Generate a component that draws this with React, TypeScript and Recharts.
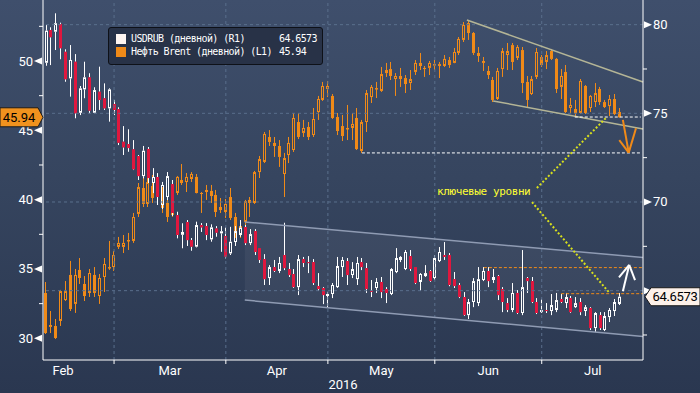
import React from "react";
import { ComposedChart, Bar, Area, XAxis, YAxis, ReferenceLine } from "recharts";

// USD/RUB daily candles (right axis, R1)
const rubOpen = [
  77.85, 79.7, 79.6, 80.04, 78.47, 76.97, 77.91, 75.03, 76.35, 77.03,
  75.03, 76.22, 75.85, 75.28, 75.52, 75.23, 73.4, 73.27, 72.97, 72.59,
  71.46, 72.99, 71.07, 71.41, 69.83, 70.28, 71.01, 69.26, 68.15, 68.87,
  67.85, 67.48, 68.7, 68.64, 67.89, 68.51, 68.23, 68.08, 67.1, 67.74,
  68.14, 68.59, 67.68, 68.36, 67.4, 66.78, 65.71, 66.33, 66.11, 67.01,
  66.22, 65.94, 65.2, 66.78, 66.61, 66.61, 65.26, 65.15, 64.7, 64.81,
  65.2, 66.33, 66.67, 65.88, 65.65, 66.61, 66.27, 64.98, 65.15, 65.49,
  65.09, 64.81, 66.05, 66.73, 66.22, 66.95, 66.33, 65.49, 65.82, 66.11,
  65.71, 66.67, 67.01, 67.01, 65.65, 65.32, 64.64, 63.62, 64.36, 64.3,
  65.6, 66.11, 65.6, 65.82, 65.09, 64.3, 63.91, 64.87, 63.74, 65.71,
  65.54, 64.36, 63.79, 63.91, 63.85, 63.91, 64.53, 64.3, 64.58, 64.07,
  64.36, 63.85, 64.02, 62.89, 63.62, 62.78, 63.51, 63.85, 64.25,
];
const rubHigh = [
  79.98, 79.85, 80.64, 80.11, 78.61, 78.85, 78.34, 76.54, 77.91, 77.26,
  76.47, 77.63, 76.69, 76.41, 75.75, 75.34, 74.28, 74.1, 73.49, 72.65,
  73.16, 73.1, 71.91, 71.63, 71.13, 71.69, 71.24, 69.45, 68.8, 68.98,
  67.97, 68.89, 68.81, 68.81, 68.74, 68.64, 68.64, 68.57, 68.6, 68.64,
  68.98, 68.7, 68.47, 68.47, 67.4, 67.06, 66.44, 66.73, 66.9, 68.83,
  66.56, 66.22, 67.01, 66.9, 66.95, 66.78, 65.99, 65.2, 64.92, 65.43,
  66.9, 66.9, 66.84, 66.61, 66.9, 66.84, 66.56, 65.6, 65.71, 65.77,
  65.2, 66.27, 67.4, 66.95, 67.29, 67.29, 66.33, 65.99, 66.44, 66.16,
  67.01, 67.46, 67.74, 67.12, 66.05, 65.43, 64.92, 64.53, 65.71, 66.33,
  66.33, 66.33, 66.22, 65.88, 65.2, 64.58, 65.43, 65.03, 67.29, 65.77,
  65.77, 64.58, 64.53, 64.3, 64.81, 64.87, 64.81, 64.87, 64.7, 64.64,
  64.58, 64.19, 64.07, 63.79, 63.79, 63.79, 64.02, 64.53, 64.87,
];
const rubLow = [
  77.68, 77.72, 78.57, 78.05, 76.78, 75.94, 74.72, 74.9, 75.85, 75.0,
  75.0, 75.19, 75.19, 74.53, 74.9, 73.21, 72.65, 72.83, 71.8, 71.24,
  71.33, 71.07, 70.5, 69.83, 69.6, 70.11, 69.21, 67.95, 67.39, 67.52,
  67.25, 67.44, 68.31, 67.85, 67.76, 68.04, 67.19, 66.82, 67.01, 67.52,
  68.04, 67.57, 67.57, 67.01, 66.56, 65.32, 65.32, 66.05, 65.99, 66.16,
  65.77, 65.15, 64.75, 66.33, 65.99, 65.32, 64.98, 64.24, 64.07, 64.58,
  65.15, 65.77, 65.32, 65.71, 65.32, 66.16, 64.87, 64.64, 64.87, 64.58,
  64.3, 64.75, 65.99, 66.61, 66.16, 66.11, 65.37, 64.98, 65.77, 65.49,
  65.6, 66.61, 66.73, 65.25, 65.15, 64.58, 63.57, 63.4, 64.07, 64.13,
  65.54, 65.2, 65.43, 64.47, 63.79, 63.79, 63.79, 63.68, 63.62, 64.87,
  64.3, 63.68, 63.74, 63.74, 63.62, 63.79, 64.3, 64.02, 63.74, 64.02,
  63.62, 63.57, 62.78, 62.67, 62.78, 62.72, 63.23, 63.57, 64.19,
];
const rubClose = [
  79.66, 79.29, 80.08, 78.67, 76.92, 78.01, 75.0, 76.41, 77.03, 75.15,
  76.31, 75.75, 75.28, 76.35, 75.19, 73.34, 73.08, 73.04, 71.84, 71.46,
  72.89, 71.35, 71.41, 70.28, 70.96, 71.46, 69.38, 68.14, 68.31, 67.85,
  67.48, 68.7, 68.57, 68.14, 68.57, 68.27, 68.35, 66.91, 67.76, 68.36,
  68.55, 67.68, 68.19, 67.18, 66.73, 65.65, 66.33, 66.11, 66.56, 66.27,
  65.88, 65.2, 66.78, 66.56, 66.56, 65.43, 65.09, 64.75, 64.81, 65.32,
  66.39, 66.73, 65.88, 66.22, 66.56, 66.33, 65.09, 64.95, 65.49, 64.92,
  64.87, 66.22, 66.84, 66.9, 67.18, 66.22, 65.43, 65.94, 65.99, 65.54,
  66.84, 67.18, 66.9, 65.32, 65.26, 64.64, 63.62, 64.36, 65.54, 65.65,
  66.11, 65.54, 65.77, 64.75, 64.36, 63.91, 64.87, 63.74, 65.2, 65.54,
  64.36, 63.74, 63.91, 63.85, 64.19, 64.47, 64.36, 64.64, 63.79, 64.3,
  63.79, 64.07, 62.89, 63.74, 62.89, 63.57, 63.91, 64.36, 64.66,
];

// Brent daily candles (left axis, L1)
const brentOpen = [
  33.27, 30.96, 30.89, 31.25, 32.76, 34.57, 32.48, 34.93, 33.92, 33.27,
  34.57, 33.05, 34.42, 35.11, 35.14, 36.59, 36.59, 37.06, 37.02, 38.97,
  40.84, 39.69, 40.99, 40.63, 40.34, 39.76, 38.89, 40.48, 41.42, 41.27,
  41.49, 41.64, 40.48, 40.7, 40.63, 40.34, 39.47, 39.11, 40.19, 38.75,
  37.45, 38.39, 39.98, 39.76, 41.99, 42.72, 44.52, 44.09, 43.87, 41.85,
  43.22, 43.58, 45.6, 44.81, 45.24, 44.66, 46.32, 47.19, 47.98, 47.48,
  45.96, 45.31, 45.1, 45.17, 45.89, 43.51, 45.6, 47.4, 47.98, 47.84,
  49.13, 49.42, 48.7, 48.92, 48.77, 48.41, 49.21, 49.86, 49.5, 49.5,
  49.75, 49.78, 49.64, 50.07, 49.86, 50.58, 51.52, 52.74, 52.02, 50.58,
  50.0, 49.28, 48.63, 47.26, 49.42, 50.43, 51.15, 50.22, 50.79, 48.49,
  47.62, 48.85, 50.29, 49.93, 50.72, 50.15, 48.13, 49.21, 46.61, 46.54,
  46.25, 48.2, 46.61, 47.04, 47.98, 47.04, 46.75, 47.26, 46.32,
];
const brentHigh = [
  34.06, 31.97, 31.39, 33.49, 34.13, 35.58, 35.0, 35.79, 34.49, 35.0,
  35.14, 34.64, 35.79, 37.02, 36.3, 37.31, 37.45, 37.6, 39.04, 41.2,
  41.64, 41.92, 41.78, 41.06, 40.91, 40.19, 41.2, 41.71, 42.57, 41.92,
  41.99, 41.85, 40.55, 41.06, 41.06, 40.7, 40.12, 40.05, 40.84, 39.04,
  38.53, 39.98, 40.19, 42.07, 43.15, 44.88, 45.02, 44.52, 44.3, 43.37,
  44.52, 46.25, 46.25, 45.75, 45.6, 46.61, 47.48, 48.49, 48.56, 47.62,
  46.25, 46.11, 46.83, 46.25, 46.61, 45.75, 47.91, 48.27, 48.49, 49.57,
  49.86, 49.93, 49.13, 49.5, 48.99, 49.35, 50.07, 50.58, 49.64, 50.0,
  50.07, 49.93, 50.43, 50.29, 50.94, 51.73, 52.81, 52.96, 52.09, 51.01,
  50.29, 49.64, 48.85, 49.5, 50.94, 51.3, 51.3, 51.15, 51.01, 48.92,
  48.92, 50.94, 50.43, 50.72, 50.87, 50.22, 49.42, 49.71, 47.33, 47.19,
  48.7, 48.27, 47.55, 48.41, 48.13, 47.19, 47.55, 47.62, 46.61,
];
const brentLow = [
  30.31, 30.38, 29.95, 30.89, 32.69, 31.97, 31.83, 33.92, 32.69, 32.98,
  32.98, 32.48, 33.34, 34.93, 34.86, 36.44, 36.15, 36.37, 36.88, 38.75,
  39.47, 39.47, 39.76, 39.76, 39.04, 38.39, 38.75, 40.34, 41.06, 40.55,
  41.27, 40.45, 39.04, 39.98, 39.76, 38.75, 39.04, 38.68, 38.53, 37.24,
  37.24, 37.81, 38.75, 39.69, 41.56, 42.64, 43.87, 43.08, 42.36, 40.19,
  42.64, 43.44, 44.37, 44.52, 44.3, 44.52, 45.75, 47.12, 47.4, 45.82,
  44.66, 44.23, 44.3, 44.3, 43.58, 43.37, 44.88, 46.97, 47.33, 47.77,
  48.85, 48.63, 47.48, 48.13, 47.69, 47.91, 48.99, 49.35, 48.85, 48.99,
  49.35, 48.77, 49.57, 49.5, 49.84, 50.43, 51.37, 51.52, 50.43, 49.93,
  49.28, 48.7, 47.04, 47.19, 48.85, 49.35, 49.35, 50.07, 47.69, 46.68,
  47.55, 48.7, 49.57, 49.42, 50.07, 47.69, 47.26, 46.25, 46.25, 45.96,
  46.18, 46.18, 46.32, 46.68, 46.83, 46.61, 46.03, 46.11, 45.9,
];
const brentClose = [
  30.38, 30.82, 30.02, 33.41, 33.41, 32.11, 34.57, 34.35, 33.05, 34.71,
  33.27, 34.35, 35.36, 35.14, 36.01, 36.88, 36.88, 37.09, 38.75, 40.91,
  39.69, 41.27, 40.12, 40.26, 39.4, 38.75, 40.41, 41.64, 41.2, 41.64,
  41.85, 40.48, 40.45, 40.55, 40.26, 39.11, 39.25, 39.69, 38.68, 37.67,
  38.1, 39.9, 39.76, 41.99, 42.93, 44.74, 44.16, 43.87, 43.08, 43.0,
  44.09, 45.89, 44.52, 45.17, 44.52, 45.82, 47.26, 48.2, 48.2, 45.89,
  44.95, 44.59, 45.17, 45.46, 43.65, 45.6, 47.69, 48.13, 48.05, 49.06,
  49.35, 48.92, 48.92, 48.7, 48.34, 48.7, 49.86, 49.64, 49.42, 49.86,
  49.78, 49.64, 50.15, 49.71, 50.65, 51.59, 52.6, 52.02, 50.58, 50.36,
  49.86, 48.99, 47.19, 49.28, 50.72, 50.72, 49.93, 51.01, 48.41, 47.19,
  48.7, 50.65, 49.71, 50.43, 50.15, 47.98, 48.92, 46.32, 46.83, 46.25,
  48.56, 46.25, 47.48, 47.69, 47.04, 46.68, 47.26, 46.18, 45.94,
];

// first session of each month as a candle index (Feb 1 and Aug 1 fall outside the window)
const monthNames = ["Feb", "Mar", "Apr", "May", "Jun", "Jul"];
const monthStarts = [-7, 14, 37, 58, 80, 102, 123];

const brentTicks = [30, 32.5, 35, 37.5, 40, 42.5, 45, 47.5, 50, 52.5];
const rubTicks = [62.5, 65, 67.5, 70, 72.5, 75, 77.5, 80];
const rubGrid = [65, 70, 75, 80];

const brentLast = 45.94;
const rubLast = 64.6573;

// hand-drawn annotations, in candle index / price units
const brentUpper = [{ x: 86.6, y: 52.96 }, { x: 122.84, y: 48.49 }];
const brentLower = [{ x: 92, y: 47.12 }, { x: 122.84, y: 45.1 }];
const brentSupport = [{ x: 65, y: 43.37 }, { x: 122.4, y: 43.37 }];
const brentNear = [{ x: 108.8, y: 45.96 }, { x: 122.4, y: 45.96 }];
const brentArrow = [{ x: 118.7, y: 45.75 }, { x: 119.9, y: 43.39 }];
const brentHeadL = [{ x: 117.96, y: 44.3 }, { x: 119.9, y: 43.39 }];
const brentHeadR = [{ x: 121.4, y: 45.15 }, { x: 119.9, y: 43.39 }];

const rubChannel = [
  { i: 40.9, band: [64.47, 68.87] },
  { i: 122.84, band: [62.42, 66.87] },
];
const rubUpper = [{ x: 40.9, y: 68.87 }, { x: 122.84, y: 66.87 }];
const rubLower = [{ x: 40.9, y: 64.47 }, { x: 122.84, y: 62.42 }];
const rubLevelHi = [{ x: 90.1, y: 66.3 }, { x: 122.84, y: 66.3 }];
const rubLevelLo = [{ x: 106, y: 64.83 }, { x: 122.84, y: 64.83 }];
const rubArrow = [{ x: 118.7, y: 64.97 }, { x: 120.0, y: 66.45 }];
const rubHeadL = [{ x: 117.9, y: 65.75 }, { x: 120.0, y: 66.45 }];
const rubHeadR = [{ x: 121.2, y: 65.6 }, { x: 120.0, y: 66.45 }];
const pointerUp = [{ x: 101, y: 70.79 }, { x: 115.4, y: 74.79 }];
const pointerDown = [{ x: 100, y: 69.99 }, { x: 115.8, y: 64.92 }];

const rows = rubOpen.map((_, i) => ({
  i,
  ro: rubOpen[i], rh: rubHigh[i], rl: rubLow[i], rc: rubClose[i],
  bo: brentOpen[i], bh: brentHigh[i], bl: brentLow[i], bc: brentClose[i],
}));

const ORANGE = "#f08a18";
const RED = "#e0173e";
const GRID = "#5a6f8c";

const candle = (series: "rub" | "brent") => (props: any) => {
  const { x, y, width, height, payload } = props;
  if (x == null || !payload) return <g />;
  const o = series === "rub" ? payload.ro : payload.bo;
  const h = series === "rub" ? payload.rh : payload.bh;
  const l = series === "rub" ? payload.rl : payload.bl;
  const c = series === "rub" ? payload.rc : payload.bc;
  const top = Math.min(y, y + height);
  const span = Math.abs(height);
  const px = (v: number) => (h === l ? top : top + ((h - v) / (h - l)) * span);
  const cx = Math.floor(x + width / 2) + 0.5;
  const up = c >= o;
  const yTop = px(Math.max(o, c));
  const bodyH = Math.max(px(Math.min(o, c)) - yTop, 1);
  const wick = series === "rub" ? "#ffffff" : ORANGE;
  const col = series === "rub" ? (up ? "#ffffff" : RED) : ORANGE;
  return (
    <g>
      <line x1={cx} x2={cx} y1={px(h)} y2={yTop} stroke={wick} />
      <line x1={cx} x2={cx} y1={yTop + bodyH} y2={px(l)} stroke={wick} />
      {up ? (
        <rect x={cx - 1} y={yTop + 0.5} width={2} height={Math.max(bodyH - 1, 0.5)} fill="none" stroke={col} />
      ) : (
        <rect x={cx - 1.5} y={yTop} width={3} height={bodyH} fill={col} />
      )}
    </g>
  );
};

const LeftTick = (props: any) => {
  const { x, y, payload } = props;
  const v = payload.value;
  if (v === brentLast) {
    return (
      <g>
        <path d={`M${x - 43},${y - 9.5} H${x - 5} L${x},${y} L${x - 5},${y + 9.5} H${x - 43} Z`} fill="#f0921e" stroke="#1b1b1b" />
        <text x={x - 24} y={y + 4.5} textAnchor="middle" fontSize={13} fill="#000">{v.toFixed(2)}</text>
      </g>
    );
  }
  if (v % 5 === 0) {
    return (
      <g>
        <path d={`M${x - 9},${y} L${x - 1},${y - 3.5} L${x - 1},${y + 3.5} Z`} fill="#fff" />
        <text x={x - 10} y={y + 4.5} textAnchor="end" fontSize={13} fill="#fff">{v}</text>
      </g>
    );
  }
  return <line x1={x - 4} x2={x} y1={y} y2={y} stroke="#fff" />;
};

const RightTick = (props: any) => {
  const { x, y, payload } = props;
  const v = payload.value;
  if (v === rubLast) {
    return (
      <g>
        <path d={`M${x + 2},${y} L${x + 8},${y - 9} H${x + 57} V${y + 9} H${x + 8} Z`} fill="#fdf1ea" stroke="#1b1b1b" />
        <text x={x + 32} y={y + 4.5} textAnchor="middle" fontSize={13} letterSpacing={-0.3} fill="#000">{v.toFixed(4)}</text>
      </g>
    );
  }
  if (v % 5 === 0) {
    // the 65 label sits under the last-value tag, as in the source
    const hidden = Math.abs(v - rubLast) < 1;
    return (
      <g>
        <path d={`M${x + 1},${y - 3.5} L${x + 9},${y} L${x + 1},${y + 3.5} Z`} fill="#fff" />
        {!hidden && <text x={x + 10} y={y + 4.5} textAnchor="start" fontSize={13} fill="#fff">{v}</text>}
      </g>
    );
  }
  return <line x1={x} x2={x + 4} y1={y} y2={y} stroke="#fff" />;
};

const monthMids = monthNames.map((_, k) => (monthStarts[k] + monthStarts[k + 1]) / 2);
const xTicks = [...monthStarts.filter((s) => s >= 0 && s <= 122), ...monthMids];

const MonthTick = (props: any) => {
  const { x, y, payload } = props;
  const v = payload.value;
  const k = monthMids.indexOf(v);
  if (k < 0) return <line x1={x} x2={x} y1={y} y2={y + 4} stroke="#fff" />;
  return (
    <text x={x} y={y + 15} textAnchor="middle" fontSize={13} fill="#fff">{monthNames[k]}</text>
  );
};

const seg = (pts: { x: number; y: number }[]) => pts as any;

export default function App() {
  return (
    <div
      style={{
        position: "absolute",
        left: 0,
        top: 0,
        width: 700,
        height: 393,
        background: "linear-gradient(180deg, #3f4f6c 0%, #36455f 45%, #2a3750 100%)",
        fontFamily: "Roboto, 'DejaVu Sans', sans-serif",
        overflow: "hidden",
      }}
    >
      <ComposedChart width={700} height={393} data={rows} margin={{ top: 0, right: 0, bottom: 0, left: 0 }} barSize={3} barGap={-3}>
        <XAxis
          dataKey="i"
          type="number"
          domain={[-0.62, 122.84]}
          allowDataOverflow
          ticks={xTicks}
          interval={0}
          tick={<MonthTick />}
          tickLine={false}
          tickSize={0}
          tickMargin={0}
          height={33}
          axisLine={{ stroke: "#fff" }}
          label={{ value: "2016", position: "insideBottom", offset: 4, fill: "#fff", fontSize: 13 }}
        />
        <YAxis
          yAxisId="L"
          orientation="left"
          width={43}
          domain={[28.435, 54.4]}
          allowDataOverflow
          ticks={[...brentTicks, brentLast]}
          interval={0}
          tick={<LeftTick />}
          tickLine={false}
          tickSize={0}
          tickMargin={0}
          axisLine={{ stroke: "#fff" }}
        />
        <YAxis
          yAxisId="R"
          orientation="right"
          width={57}
          domain={[61.09, 81.39]}
          allowDataOverflow
          ticks={[...rubTicks, rubLast]}
          interval={0}
          tick={<RightTick />}
          tickLine={false}
          tickSize={0}
          tickMargin={0}
          axisLine={{ stroke: "#fff" }}
        />

        {rubGrid.map((v) => (
          <ReferenceLine key={"g" + v} yAxisId="R" y={v} stroke={GRID} strokeDasharray="3 3" />
        ))}
        {monthStarts
          .filter((s) => s >= 0 && s <= 122)
          .map((s) => (
            <ReferenceLine key={"m" + s} yAxisId="R" x={s} stroke={GRID} strokeDasharray="3 3" />
          ))}

        <Area
          yAxisId="R"
          data={rubChannel}
          dataKey="band"
          type="linear"
          stroke="none"
          fill="#ffffff"
          fillOpacity={0.05}
          isAnimationActive={false}
        />
        <ReferenceLine yAxisId="R" segment={seg(rubUpper)} stroke="#8f9bb3" strokeWidth={1.5} ifOverflow="visible" />
        <ReferenceLine yAxisId="R" segment={seg(rubLower)} stroke="#8f9bb3" strokeWidth={1.5} ifOverflow="visible" />
        <ReferenceLine yAxisId="L" segment={seg(brentUpper)} stroke="#b4b596" strokeWidth={1.5} ifOverflow="visible" />
        <ReferenceLine yAxisId="L" segment={seg(brentLower)} stroke="#b4b596" strokeWidth={1.5} ifOverflow="visible" />

        <Bar yAxisId="L" dataKey={(d: any) => [d.bl, d.bh]} shape={candle("brent")} isAnimationActive={false} />
        <Bar yAxisId="R" dataKey={(d: any) => [d.rl, d.rh]} shape={candle("rub")} isAnimationActive={false} />

        <ReferenceLine yAxisId="L" segment={seg(brentSupport)} stroke="#fff" strokeDasharray="3 2" ifOverflow="visible" />
        <ReferenceLine yAxisId="L" segment={seg(brentNear)} stroke="#fff" strokeDasharray="3 2" ifOverflow="visible" />
        <ReferenceLine yAxisId="R" segment={seg(rubLevelHi)} stroke={ORANGE} strokeDasharray="3 2" ifOverflow="visible" />
        <ReferenceLine yAxisId="R" segment={seg(rubLevelLo)} stroke={ORANGE} strokeDasharray="3 2" ifOverflow="visible" />
        <ReferenceLine yAxisId="R" segment={seg(pointerUp)} stroke="#d8e01c" strokeWidth={2} strokeDasharray="2 2" ifOverflow="visible" />
        <ReferenceLine yAxisId="R" segment={seg(pointerDown)} stroke="#d8e01c" strokeWidth={2} strokeDasharray="2 2" ifOverflow="visible" />

        <ReferenceLine yAxisId="L" segment={seg(brentArrow)} stroke={ORANGE} strokeWidth={2} ifOverflow="visible" />
        <ReferenceLine yAxisId="L" segment={seg(brentHeadL)} stroke={ORANGE} strokeWidth={2} ifOverflow="visible" />
        <ReferenceLine yAxisId="L" segment={seg(brentHeadR)} stroke={ORANGE} strokeWidth={2} ifOverflow="visible" />
        <ReferenceLine yAxisId="R" segment={seg(rubArrow)} stroke="#fff" strokeWidth={2} ifOverflow="visible" />
        <ReferenceLine yAxisId="R" segment={seg(rubHeadL)} stroke="#fff" strokeWidth={2} ifOverflow="visible" />
        <ReferenceLine yAxisId="R" segment={seg(rubHeadR)} stroke="#fff" strokeWidth={2} ifOverflow="visible" />
      </ComposedChart>

      {/* legend */}
      <div
        style={{
          position: "absolute",
          left: 108,
          top: 27,
          width: 215,
          height: 38,
          boxSizing: "border-box",
          background: "#283247",
          border: "1px solid #0e1118",
          borderRadius: 3,
          fontFamily: "'DejaVu Sans Mono', monospace",
          fontSize: 10,
          letterSpacing: -0.6,
          color: "#fff",
          whiteSpace: "nowrap",
        }}
      >
        <div style={{ position: "absolute", left: 7, top: 6, width: 10, height: 10, background: "#fff5f0" }} />
        <div style={{ position: "absolute", left: 22, top: 5, lineHeight: "12px" }}>USDRUB (дневной) (R1)</div>
        <div style={{ position: "absolute", left: 170, top: 5, lineHeight: "12px" }}>64.6573</div>
        <div style={{ position: "absolute", left: 7, top: 19, width: 10, height: 10, background: ORANGE }} />
        <div style={{ position: "absolute", left: 22, top: 18, lineHeight: "12px" }}>Нефть Brent (дневной) (L1)</div>
        <div style={{ position: "absolute", left: 170, top: 18, lineHeight: "12px" }}>45.94</div>
      </div>

      <div
        style={{
          position: "absolute",
          left: 437,
          top: 185,
          fontFamily: "'DejaVu Sans Mono', monospace",
          fontSize: 11,
          letterSpacing: -0.4,
          lineHeight: "13px",
          color: "#ffff33",
          whiteSpace: "nowrap",
        }}
      >
        ключевые уровни
      </div>
    </div>
  );
}
